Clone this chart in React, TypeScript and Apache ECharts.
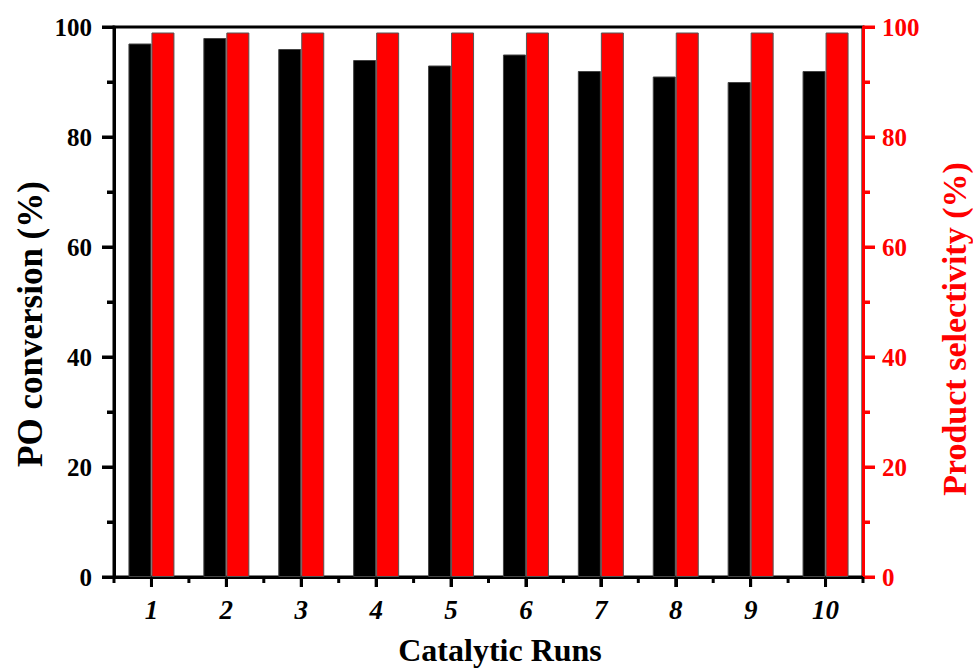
import React, { useEffect, useRef } from "react";
import * as echarts from "echarts";

const runs = ["1", "2", "3", "4", "5", "6", "7", "8", "9", "10"];
const poConversion = [97, 98, 96, 94, 93, 95, 92, 91, 90, 92];
const selectivity = [99, 99, 99, 99, 99, 99, 99, 99, 99, 99];
const yTicks = [0, 20, 40, 60, 80, 100];

const FONT = "'Liberation Serif', 'Times New Roman', serif";

function yAxisOf(color: string, position: string, labelMargin: number) {
  return {
    type: "value",
    position,
    min: yTicks[0],
    max: yTicks[yTicks.length - 1],
    interval: 20,
    splitLine: { show: false },
    axisLine: { show: true, lineStyle: { color, width: 3 } },
    axisTick: { show: true, length: 12, lineStyle: { color, width: 3 } },
    minorTick: { show: true, splitNumber: 2, length: 7, lineStyle: { color, width: 3 } },
    axisLabel: { fontFamily: FONT, fontWeight: "bold", fontSize: 25, color, margin: labelMargin },
  };
}

const nameTexts: any[] = [
  {
    type: "text",
    x: 30,
    y: 324,
    rotation: Math.PI / 2,
    style: {
      text: "PO conversion (%)",
      fontFamily: FONT,
      fontWeight: "bold",
      fontSize: 35,
      fill: "#000",
      align: "center",
      verticalAlign: "middle",
    },
  },
  {
    type: "text",
    x: 954,
    y: 329,
    rotation: Math.PI / 2,
    style: {
      text: "Product selectivity (%)",
      fontFamily: FONT,
      fontWeight: "bold",
      fontSize: 34,
      fill: "#ff0000",
      align: "center",
      verticalAlign: "middle",
    },
  },
  {
    type: "text",
    x: 500,
    y: 650,
    style: {
      text: "Catalytic Runs",
      fontFamily: FONT,
      fontWeight: "bold",
      fontSize: 32,
      fill: "#000",
      align: "center",
      verticalAlign: "middle",
    },
  },
];

export default function App() {
  const ref = useRef<HTMLDivElement>(null);
  useEffect(() => {
    if (!ref.current) return;
    const chart = echarts.init(ref.current, undefined, { renderer: "svg" });
    chart.setOption({
      animation: false,
      grid: {
        left: 114,
        right: 110,
        top: 27,
        bottom: 93,
        show: true,
        borderColor: "#000",
        borderWidth: 3,
        backgroundColor: "transparent",
      },
      xAxis: {
        type: "category",
        data: runs,
        axisLine: { show: true, lineStyle: { color: "#000", width: 3 } },
        axisTick: { show: true, alignWithLabel: true, length: 10, lineStyle: { color: "#000", width: 3 } },
        splitLine: { show: false },
        axisLabel: {
          fontFamily: FONT,
          fontWeight: "bold",
          fontStyle: "italic",
          fontSize: 27,
          color: "#000",
          margin: 19,
        },
      },
      yAxis: [yAxisOf("#000000", "left", 22), yAxisOf("#ff0000", "right", 19)],
      graphic: nameTexts,
      series: [
        {
          name: "PO conversion",
          type: "bar",
          yAxisIndex: 0,
          data: poConversion,
          barWidth: 23,
          barGap: "0%",
          itemStyle: { color: "#000000", borderColor: "#444", borderWidth: 1 },
        },
        {
          name: "Product selectivity",
          type: "bar",
          yAxisIndex: 1,
          data: selectivity,
          barWidth: 23,
          barGap: "0%",
          itemStyle: { color: "#ff0000", borderColor: "#555", borderWidth: 1 },
        },
      ],
    });

    const ticks: any[] = [];
    let errMsg = "";
    try {
      const pl = (i: number, v: number) => chart.convertToPixel({ seriesIndex: 0 }, [i, v]) as number[];
      const pr = (i: number, v: number) => chart.convertToPixel({ seriesIndex: 1 }, [i, v]) as number[];
      const c0 = pl(0, 0);
      const c1 = pl(1, 0);
      const band = c1[0] - c0[0];
      const last = pl(runs.length - 1, 0);
      const leftX = c0[0] - band / 2;
      const rightX = last[0] + band / 2;
      const baseY = c0[1];
      const line = (x1: number, y1: number, x2: number, y2: number, color: string) => ({
        type: "line",
        z: 100,
        silent: true,
        shape: { x1, y1, x2, y2 },
        style: { stroke: color, lineWidth: 3 },
      });
      yTicks.forEach((v, i) => {
        const yL = pl(0, v)[1];
        const yR = pr(0, v)[1];
        ticks.push(line(leftX - 12, yL, leftX, yL, "#000"));
        ticks.push(line(rightX, yR, rightX + 12, yR, "#ff0000"));
        if (i < yTicks.length - 1) {
          const m = (v + yTicks[i + 1]) / 2;
          const mL = pl(0, m)[1];
          const mR = pr(0, m)[1];
          ticks.push(line(leftX - 7, mL, leftX, mL, "#000"));
          ticks.push(line(rightX, mR, rightX + 7, mR, "#ff0000"));
        }
      });
      runs.forEach((_, i) => {
        const x = pl(i, 0)[0];
        ticks.push(line(x, baseY, x, baseY + 10, "#000"));
        ticks.push(line(x - band / 2, baseY, x - band / 2, baseY + 6, "#000"));
      });
      ticks.push(line(rightX, baseY, rightX, baseY + 6, "#000"));
    } catch (e: any) {
      errMsg = String(e && e.message ? e.message : e);
    }
    const extra: any[] = errMsg
      ? [{ type: "text", x: 2, y: 662, style: { text: errMsg, fontSize: 8, fill: "#ccc" } }]
      : [];
    chart.setOption({ graphic: [...nameTexts, ...ticks, ...extra] });
    return () => chart.dispose();
  }, []);
  return <div ref={ref} style={{ width: 973, height: 670, position: "absolute", left: 0, top: 0 }} />;
}
